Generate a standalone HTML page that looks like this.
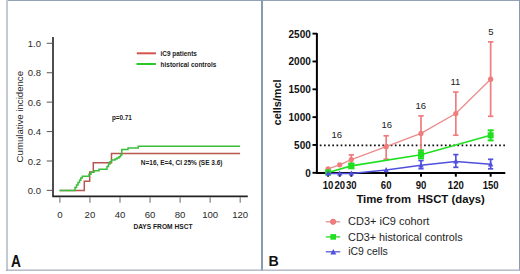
<!DOCTYPE html>
<html><head><meta charset="utf-8"><style>
html,body{margin:0;padding:0;background:#fff;}
body{width:520px;height:274px;overflow:hidden;}
svg{display:block;font-family:"Liberation Sans",sans-serif;}
</style></head><body>
<svg width="520" height="274" viewBox="0 0 520 274">
<rect x="0" y="0" width="520" height="274" fill="#fff"/>
<rect x="6" y="0" width="514" height="1" fill="#93a2b4"/>
<rect x="6" y="0" width="2" height="271" fill="#c3c9d1"/>
<rect x="261" y="0" width="2" height="271" fill="#8a9bb0"/>
<rect x="519" y="0" width="1" height="270.5" fill="#8a9aa8"/>
<rect x="6" y="269.5" width="514" height="1.3" fill="#a7b0bd"/>
<path d="M53 37 V196.4 H247.8" fill="none" stroke="#222" stroke-width="1.6"/>
<line x1="46.7" y1="190.4" x2="52.4" y2="190.4" stroke="#666" stroke-width="1.1" />
<text x="41" y="193.95" font-size="9.5" font-weight="normal" text-anchor="end" fill="#2a2a2a" >0.0</text>
<line x1="46.7" y1="160.98" x2="52.4" y2="160.98" stroke="#666" stroke-width="1.1" />
<text x="41" y="164.53" font-size="9.5" font-weight="normal" text-anchor="end" fill="#2a2a2a" >0.2</text>
<line x1="46.7" y1="131.56" x2="52.4" y2="131.56" stroke="#666" stroke-width="1.1" />
<text x="41" y="135.11" font-size="9.5" font-weight="normal" text-anchor="end" fill="#2a2a2a" >0.4</text>
<line x1="46.7" y1="102.14" x2="52.4" y2="102.14" stroke="#666" stroke-width="1.1" />
<text x="41" y="105.69" font-size="9.5" font-weight="normal" text-anchor="end" fill="#2a2a2a" >0.6</text>
<line x1="46.7" y1="72.72" x2="52.4" y2="72.72" stroke="#666" stroke-width="1.1" />
<text x="41" y="76.27" font-size="9.5" font-weight="normal" text-anchor="end" fill="#2a2a2a" >0.8</text>
<line x1="46.7" y1="43.3" x2="52.4" y2="43.3" stroke="#666" stroke-width="1.1" />
<text x="41" y="46.85" font-size="9.5" font-weight="normal" text-anchor="end" fill="#2a2a2a" >1.0</text>
<line x1="59.9" y1="197.2" x2="59.9" y2="202.7" stroke="#808080" stroke-width="1.2" />
<text x="59.9" y="218.0" font-size="9.6" font-weight="normal" text-anchor="middle" fill="#2a2a2a" >0</text>
<line x1="89.95" y1="197.2" x2="89.95" y2="202.7" stroke="#808080" stroke-width="1.2" />
<text x="89.95" y="218.0" font-size="9.6" font-weight="normal" text-anchor="middle" fill="#2a2a2a" >20</text>
<line x1="120.0" y1="197.2" x2="120.0" y2="202.7" stroke="#808080" stroke-width="1.2" />
<text x="120.0" y="218.0" font-size="9.6" font-weight="normal" text-anchor="middle" fill="#2a2a2a" >40</text>
<line x1="150.05" y1="197.2" x2="150.05" y2="202.7" stroke="#808080" stroke-width="1.2" />
<text x="150.05" y="218.0" font-size="9.6" font-weight="normal" text-anchor="middle" fill="#2a2a2a" >60</text>
<line x1="180.1" y1="197.2" x2="180.1" y2="202.7" stroke="#808080" stroke-width="1.2" />
<text x="180.1" y="218.0" font-size="9.6" font-weight="normal" text-anchor="middle" fill="#2a2a2a" >80</text>
<line x1="210.15" y1="197.2" x2="210.15" y2="202.7" stroke="#808080" stroke-width="1.2" />
<text x="210.15" y="218.0" font-size="9.6" font-weight="normal" text-anchor="middle" fill="#2a2a2a" >100</text>
<line x1="240.2" y1="197.2" x2="240.2" y2="202.7" stroke="#808080" stroke-width="1.2" />
<text x="240.2" y="218.0" font-size="9.6" font-weight="normal" text-anchor="middle" fill="#2a2a2a" >120</text>
<text transform="translate(22.7 162.4) rotate(-90)" font-size="9.6" fill="#2a2a2a" textLength="91.4" lengthAdjust="spacingAndGlyphs">Cumulative incidence</text>
<text x="133.4" y="229.4" font-size="6.6" font-weight="bold" text-anchor="start" fill="#1a1a1a" textLength="59.1" lengthAdjust="spacingAndGlyphs" >DAYS FROM HSCT</text>
<path d="M59.6 190.4 H84.3 V181.2 H89.7 V172 H93.3 V162.8 H111.5 V153.5 H240.1" fill="none" stroke="#b85652" stroke-width="1.5"/>
<path d="M59.6 190.4 H75 V187.6 H76.5 V185 H78 V182.5 H79.5 V180.3 H80.8 V178 H82.3 V176.3 H89 V174.2 H91 V172.3 H94 V170.7 H99 V169.3 H107 V166.5 H108.5 V164 H110 V161.8 H111.5 V160 H115 V159 H117 V158 H119 V156.8 H120.5 V155 H121.8 V149.4 H128 V147.9 H138.2 V146.3 H240.1" fill="none" stroke="#3abe3a" stroke-width="1.5"/>
<line x1="136.8" y1="53.3" x2="155.9" y2="53.3" stroke="#d4524e" stroke-width="2" />
<line x1="136.5" y1="64" x2="155.9" y2="64" stroke="#27c927" stroke-width="2" />
<text x="160.6" y="56.4" font-size="6.5" font-weight="bold" text-anchor="start" fill="#1a1a1a" textLength="36.3" lengthAdjust="spacingAndGlyphs" >iC9 patients</text>
<text x="160.6" y="66.7" font-size="6.5" font-weight="bold" text-anchor="start" fill="#1a1a1a" textLength="55.7" lengthAdjust="spacingAndGlyphs" >historical controls</text>
<text x="111.9" y="120.4" font-size="6.5" font-weight="bold" text-anchor="start" fill="#1a1a1a" textLength="20" lengthAdjust="spacingAndGlyphs" >p=0.71</text>
<text x="140.8" y="165.3" font-size="6.5" font-weight="bold" text-anchor="start" fill="#1a1a1a" textLength="81.7" lengthAdjust="spacingAndGlyphs" >N=16, E=4, CI 25% (SE 3.6)</text>
<text transform="translate(11.1 266.9) scale(0.88 1)" font-size="15.6" font-weight="bold" fill="#111">A</text>
<line x1="319.8" y1="145.4" x2="506" y2="145.4" stroke="#111" stroke-width="1.7" stroke-dasharray="1.7 2.47"/>
<path d="M316.9 33.1 V173.8" fill="none" stroke="#000" stroke-width="2"/>
<path d="M315.9 173.0 H505.3" fill="none" stroke="#000" stroke-width="2"/>
<line x1="312.5" y1="172.8" x2="317" y2="172.8" stroke="#000" stroke-width="1.9" />
<text x="310.8" y="176.65" font-size="10" font-weight="bold" text-anchor="end" fill="#111" >0</text>
<line x1="312.5" y1="144.97" x2="317" y2="144.97" stroke="#000" stroke-width="1.9" />
<text x="310.8" y="148.82" font-size="10" font-weight="bold" text-anchor="end" fill="#111" >500</text>
<line x1="312.5" y1="117.14" x2="317" y2="117.14" stroke="#000" stroke-width="1.9" />
<text x="310.8" y="120.99" font-size="10" font-weight="bold" text-anchor="end" fill="#111" >1000</text>
<line x1="312.5" y1="89.31" x2="317" y2="89.31" stroke="#000" stroke-width="1.9" />
<text x="310.8" y="93.16" font-size="10" font-weight="bold" text-anchor="end" fill="#111" >1500</text>
<line x1="312.5" y1="61.48" x2="317" y2="61.48" stroke="#000" stroke-width="1.9" />
<text x="310.8" y="65.33" font-size="10" font-weight="bold" text-anchor="end" fill="#111" >2000</text>
<line x1="312.5" y1="33.65" x2="317" y2="33.65" stroke="#000" stroke-width="1.9" />
<text x="310.8" y="37.5" font-size="10" font-weight="bold" text-anchor="end" fill="#111" >2500</text>
<line x1="328.11" y1="173.5" x2="328.11" y2="176.7" stroke="#000" stroke-width="2" />
<text transform="translate(328.11 188.5) scale(0.93 1)" font-size="10.3" font-weight="bold" text-anchor="middle" fill="#111">10</text>
<line x1="339.72" y1="173.5" x2="339.72" y2="176.7" stroke="#000" stroke-width="2" />
<text transform="translate(339.72 188.5) scale(0.93 1)" font-size="10.3" font-weight="bold" text-anchor="middle" fill="#111">20</text>
<line x1="351.33" y1="173.5" x2="351.33" y2="176.7" stroke="#000" stroke-width="2" />
<text transform="translate(351.33 188.5) scale(0.93 1)" font-size="10.3" font-weight="bold" text-anchor="middle" fill="#111">30</text>
<line x1="386.16" y1="173.5" x2="386.16" y2="176.7" stroke="#000" stroke-width="2" />
<text transform="translate(386.16 188.5) scale(0.93 1)" font-size="10.3" font-weight="bold" text-anchor="middle" fill="#111">60</text>
<line x1="420.99" y1="173.5" x2="420.99" y2="176.7" stroke="#000" stroke-width="2" />
<text transform="translate(420.99 188.5) scale(0.93 1)" font-size="10.3" font-weight="bold" text-anchor="middle" fill="#111">90</text>
<line x1="455.82" y1="173.5" x2="455.82" y2="176.7" stroke="#000" stroke-width="2" />
<text transform="translate(455.82 188.5) scale(0.93 1)" font-size="10.3" font-weight="bold" text-anchor="middle" fill="#111">120</text>
<line x1="490.65" y1="173.5" x2="490.65" y2="176.7" stroke="#000" stroke-width="2" />
<text transform="translate(490.65 188.5) scale(0.93 1)" font-size="10.3" font-weight="bold" text-anchor="middle" fill="#111">150</text>
<text x="356.4" y="203.2" font-size="11.3" font-weight="bold" text-anchor="start" fill="#111" textLength="128.5" lengthAdjust="spacingAndGlyphs" >Time from&#160; HSCT (days)</text>
<text transform="translate(281.2 125.4) rotate(-90)" font-size="10.8" font-weight="bold" fill="#111" textLength="46" lengthAdjust="spacingAndGlyphs">cells/mcl</text>
<line x1="351.33" y1="154.9" x2="351.33" y2="164.3" stroke="#f07c7c" stroke-width="1.7" />
<line x1="348.63" y1="154.9" x2="354.03" y2="154.9" stroke="#f07c7c" stroke-width="1.7" />
<line x1="348.63" y1="164.3" x2="354.03" y2="164.3" stroke="#f07c7c" stroke-width="1.7" />
<line x1="386.16" y1="135.8" x2="386.16" y2="159.2" stroke="#f07c7c" stroke-width="1.7" />
<line x1="383.46000000000004" y1="135.8" x2="388.86" y2="135.8" stroke="#f07c7c" stroke-width="1.7" />
<line x1="383.46000000000004" y1="159.2" x2="388.86" y2="159.2" stroke="#f07c7c" stroke-width="1.7" />
<line x1="420.99" y1="115.9" x2="420.99" y2="151" stroke="#f07c7c" stroke-width="1.7" />
<line x1="418.29" y1="115.9" x2="423.69" y2="115.9" stroke="#f07c7c" stroke-width="1.7" />
<line x1="418.29" y1="151" x2="423.69" y2="151" stroke="#f07c7c" stroke-width="1.7" />
<line x1="455.82" y1="92" x2="455.82" y2="135.2" stroke="#f07c7c" stroke-width="1.7" />
<line x1="453.12" y1="92" x2="458.52" y2="92" stroke="#f07c7c" stroke-width="1.7" />
<line x1="453.12" y1="135.2" x2="458.52" y2="135.2" stroke="#f07c7c" stroke-width="1.7" />
<line x1="490.65" y1="41.9" x2="490.65" y2="116.3" stroke="#f07c7c" stroke-width="1.7" />
<line x1="487.95" y1="41.9" x2="493.34999999999997" y2="41.9" stroke="#f07c7c" stroke-width="1.7" />
<line x1="487.95" y1="116.3" x2="493.34999999999997" y2="116.3" stroke="#f07c7c" stroke-width="1.7" />
<polyline points="328.11,168.8 339.72,164.8 351.33,159.6 386.16,146.7 420.99,133.4 455.82,113.5 490.65,79.2" fill="none" stroke="#ec8a8a" stroke-width="1.25"/>
<circle cx="328.11" cy="168.8" r="2.6" fill="#f07c7c"/>
<circle cx="339.72" cy="164.8" r="2.6" fill="#f07c7c"/>
<circle cx="351.33" cy="159.6" r="2.6" fill="#f07c7c"/>
<circle cx="386.16" cy="146.7" r="2.6" fill="#f07c7c"/>
<circle cx="420.99" cy="133.4" r="2.6" fill="#f07c7c"/>
<circle cx="455.82" cy="113.5" r="2.6" fill="#f07c7c"/>
<circle cx="490.65" cy="79.2" r="2.6" fill="#f07c7c"/>
<line x1="420.99" y1="150.4" x2="420.99" y2="158.4" stroke="#1fe01f" stroke-width="2" />
<line x1="417.99" y1="150.4" x2="423.99" y2="150.4" stroke="#1fe01f" stroke-width="2" />
<line x1="417.99" y1="158.4" x2="423.99" y2="158.4" stroke="#1fe01f" stroke-width="2" />
<line x1="490.65" y1="130.3" x2="490.65" y2="140.4" stroke="#1fe01f" stroke-width="2" />
<line x1="487.65" y1="130.3" x2="493.65" y2="130.3" stroke="#1fe01f" stroke-width="2" />
<line x1="487.65" y1="140.4" x2="493.65" y2="140.4" stroke="#1fe01f" stroke-width="2" />
<line x1="351.33" y1="163.5" x2="351.33" y2="168.3" stroke="#1fe01f" stroke-width="2" />
<line x1="348.33" y1="163.5" x2="354.33" y2="163.5" stroke="#1fe01f" stroke-width="2" />
<line x1="348.33" y1="168.3" x2="354.33" y2="168.3" stroke="#1fe01f" stroke-width="2" />
<polyline points="328.11,172.4 351.33,165.9 420.99,154.7 490.65,135.3" fill="none" stroke="#1fe01f" stroke-width="1.6"/>
<rect x="325.11" y="169.4" width="6" height="6" fill="#1fe01f"/>
<rect x="348.33" y="162.9" width="6" height="6" fill="#1fe01f"/>
<rect x="417.99" y="151.7" width="6" height="6" fill="#1fe01f"/>
<rect x="487.65" y="132.3" width="6" height="6" fill="#1fe01f"/>
<line x1="420.99" y1="160.6" x2="420.99" y2="168.7" stroke="#5050dc" stroke-width="1.7" />
<line x1="418.39" y1="160.6" x2="423.59000000000003" y2="160.6" stroke="#5050dc" stroke-width="1.7" />
<line x1="418.39" y1="168.7" x2="423.59000000000003" y2="168.7" stroke="#5050dc" stroke-width="1.7" />
<line x1="455.82" y1="154.6" x2="455.82" y2="167.3" stroke="#5050dc" stroke-width="1.7" />
<line x1="453.21999999999997" y1="154.6" x2="458.42" y2="154.6" stroke="#5050dc" stroke-width="1.7" />
<line x1="453.21999999999997" y1="167.3" x2="458.42" y2="167.3" stroke="#5050dc" stroke-width="1.7" />
<line x1="490.65" y1="159.3" x2="490.65" y2="168.8" stroke="#5050dc" stroke-width="1.7" />
<line x1="488.04999999999995" y1="159.3" x2="493.25" y2="159.3" stroke="#5050dc" stroke-width="1.7" />
<line x1="488.04999999999995" y1="168.8" x2="493.25" y2="168.8" stroke="#5050dc" stroke-width="1.7" />
<polyline points="328.11,173.4 339.72,173.4 351.33,173.4 386.16,170 420.99,165.3 455.82,161.4 490.65,164.2" fill="none" stroke="#5050dc" stroke-width="1.5"/>
<path d="M328.11 170.50 L330.81 175.60 L325.41 175.60 Z" fill="#5050dc"/>
<path d="M339.72 170.50 L342.42 175.60 L337.02 175.60 Z" fill="#5050dc"/>
<path d="M351.33 170.50 L354.03 175.60 L348.63 175.60 Z" fill="#5050dc"/>
<path d="M386.16 167.10 L388.86 172.20 L383.46 172.20 Z" fill="#5050dc"/>
<path d="M420.99 162.40 L423.69 167.50 L418.29 167.50 Z" fill="#5050dc"/>
<path d="M455.82 158.50 L458.52 163.60 L453.12 163.60 Z" fill="#5050dc"/>
<path d="M490.65 161.30 L493.35 166.40 L487.95 166.40 Z" fill="#5050dc"/>
<text x="336.7" y="138.0" font-size="9.5" font-weight="normal" text-anchor="middle" fill="#222" >16</text>
<text x="386.7" y="127.6" font-size="9.5" font-weight="normal" text-anchor="middle" fill="#222" >16</text>
<text x="420.8" y="109.1" font-size="9.5" font-weight="normal" text-anchor="middle" fill="#222" >16</text>
<text x="455.4" y="85.0" font-size="9.5" font-weight="normal" text-anchor="middle" fill="#222" >11</text>
<text x="490.8" y="34.9" font-size="9.5" font-weight="normal" text-anchor="middle" fill="#222" >5</text>
<line x1="325.8" y1="221.8" x2="340.2" y2="221.8" stroke="#d89494" stroke-width="1.3" />
<circle cx="333.1" cy="221.8" r="2.7" fill="#f07c7c" stroke="#e06a6a" stroke-width="0.6"/>
<line x1="325.8" y1="236.9" x2="340.2" y2="236.9" stroke="#3ed83e" stroke-width="1.4" />
<rect x="330.4" y="234.1" width="5.6" height="5.6" fill="#1fe01f"/>
<line x1="325.8" y1="251.8" x2="340.2" y2="251.8" stroke="#5a5ad0" stroke-width="1.3" />
<path d="M333.3 249.0 L336.3 254.6 L330.3 254.6 Z" fill="#5050dc"/>
<text x="348.1" y="225.4" font-size="11" font-weight="normal" text-anchor="start" fill="#1e1e1e" textLength="81.3" lengthAdjust="spacingAndGlyphs" >CD3+ iC9 cohort</text>
<text x="348.1" y="240.7" font-size="11" font-weight="normal" text-anchor="start" fill="#1e1e1e" textLength="114.5" lengthAdjust="spacingAndGlyphs" >CD3+ historical controls</text>
<text x="348.2" y="255.3" font-size="11" font-weight="normal" text-anchor="start" fill="#1e1e1e" textLength="39.5" lengthAdjust="spacingAndGlyphs" >iC9 cells</text>
<text x="268.4" y="266.3" font-size="14.2" font-weight="bold" text-anchor="start" fill="#111" >B</text>
</svg>
</body></html>
